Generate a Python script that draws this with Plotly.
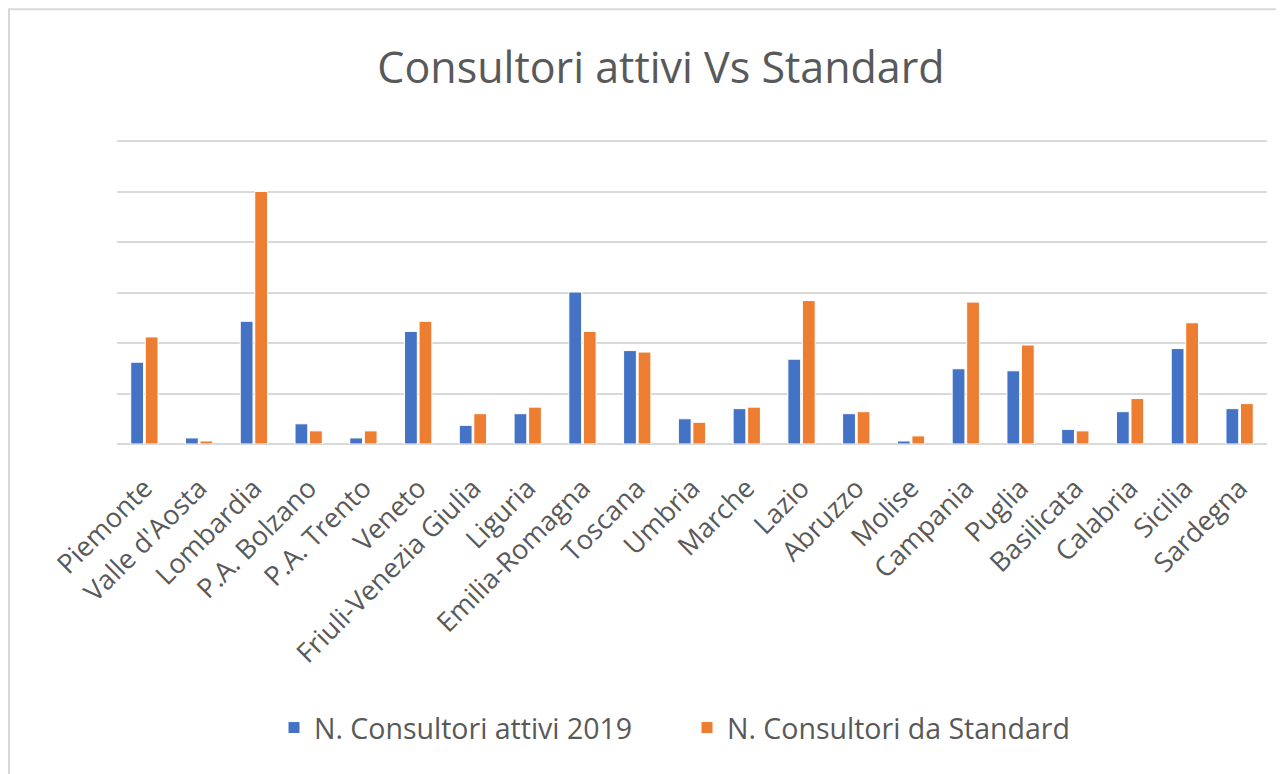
import plotly.graph_objects as go

regions = ["Piemonte", "Valle d'Aosta", "Lombardia", "P.A. Bolzano", "P.A. Trento", "Veneto",
           "Friuli-Venezia Giulia", "Liguria", "Emilia-Romagna", "Toscana", "Umbria", "Marche",
           "Lazio", "Abruzzo", "Molise", "Campania", "Puglia", "Basilicata", "Calabria",
           "Sicilia", "Sardegna"]
attivi_2019 = [162, 12, 243, 40, 12, 223, 37, 60, 301, 185, 50, 70, 168, 60, 6, 149, 145, 29, 64, 189, 70]
da_standard = [212, 6, 500, 26, 26, 243, 60, 73, 223, 182, 43, 73, 284, 64, 16, 281, 196, 26, 90, 240, 80]

name_a = "N. Consultori attivi 2019"
name_b = "N. Consultori da Standard"
title_text = "Consultori attivi Vs Standard"

FONT = "Open Sans"
TXT = "#595959"
GRID = "#d9d9d9"

# the page body has an 8px margin, so figure coords = page coords - 8
OFF = 8
W, H = 1284, 774
L = 117 - OFF
R = W - (1267 - OFF)
base = 444.5 - OFF
unit = 303.5 / 600          # px per value unit
YMAX = 602
T = base - YMAX * unit
B = H - base
pw = W - L - R
ph = H - T - B

fig = go.Figure()
fig.add_trace(go.Bar(x=regions, y=attivi_2019, name=name_a,
                     marker=dict(color="#4472C4", line=dict(color="white", width=1))))
fig.add_trace(go.Bar(x=regions, y=da_standard, name=name_b,
                     marker=dict(color="#ED7D31", line=dict(color="white", width=1))))

fig.update_layout(
    width=W, height=H,
    margin=dict(l=L, r=R, t=T, b=B, pad=0, autoexpand=False),
    paper_bgcolor="white", plot_bgcolor="white",
    barmode="group", bargap=0.47, bargroupgap=0.12,
    font=dict(family=FONT, color=TXT),
    title=dict(text=title_text, x=(661 - OFF) / W, xref="container", xanchor="center",
               y=1 - (68 - OFF) / H, yref="container", yanchor="middle",
               font=dict(family=FONT, size=43, color=TXT)),
    legend=dict(orientation="h", x=(687 - OFF - L) / pw, xanchor="center",
                y=(base - (729 - OFF)) / ph, yanchor="middle",
                font=dict(family=FONT, size=28.5, color=TXT), itemwidth=30,
                entrywidth=368, entrywidthmode="pixels"),
    xaxis=dict(tickangle=-45, tickfont=dict(family=FONT, size=27, color=TXT),
               showgrid=False, showline=False, ticks="", automargin=False,
               ticklabelstandoff=22),
    yaxis=dict(range=[0, YMAX], dtick=100, showticklabels=False, showgrid=True,
               gridcolor=GRID, gridwidth=2, zeroline=True, zerolinecolor=GRID,
               zerolinewidth=2, showline=False, ticks="", automargin=False),
    shapes=[dict(type="rect", xref="paper", yref="paper",
                 x0=(1 - L) / pw, x1=(1300 - L) / pw,
                 y0=(base - 800) / ph, y1=(base - 1) / ph,
                 line=dict(color=GRID, width=2), fillcolor="rgba(0,0,0,0)", layer="below")],
)

fig.write_html("out.html")
